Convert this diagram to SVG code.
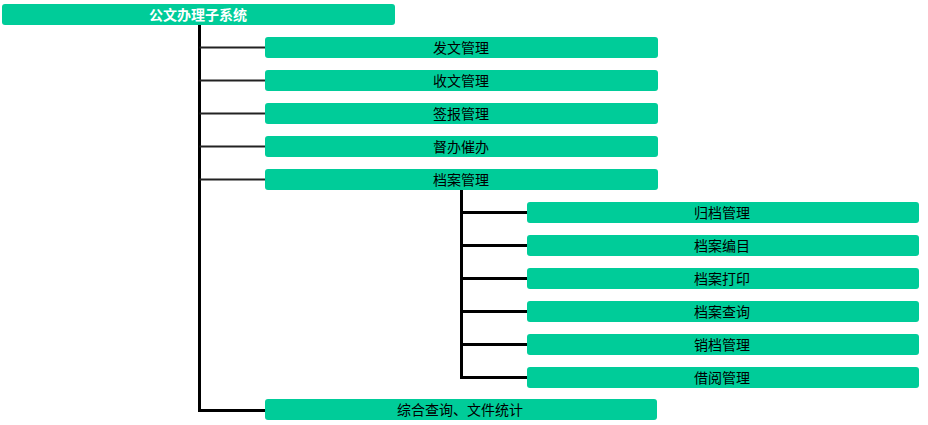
<svg xmlns="http://www.w3.org/2000/svg" width="928" height="425" viewBox="0 0 928 425">
<style>
.box{fill:#00cc99}
.t{font-family:"Noto Sans CJK SC","Liberation Sans",sans-serif;font-size:14px;fill:#000;text-anchor:middle;dominant-baseline:central}
.root{font-family:"Noto Sans CJK SC","Liberation Sans",sans-serif;font-size:14px;fill:#fff;font-weight:bold;text-anchor:middle;dominant-baseline:central}
.ln{stroke:#000;stroke-width:3;fill:none}
.thin{stroke:#222;stroke-width:2;fill:none}
</style>
<rect width="928" height="425" fill="#fff"/>
<g id="connectors">
<path class="ln" d="M199.5,25 V410.5 H265"/>
<path class="thin" d="M199.5,47.5 H265 M199.5,80.5 H265 M199.5,113.5 H265 M199.5,146.5 H265 M199.5,179.5 H265"/>
<path class="ln" d="M461.5,190 V377.5 H527"/>
<path class="ln" d="M461.5,212.5 H527 M461.5,245.5 H527 M461.5,278.5 H527 M461.5,311.5 H527 M461.5,344.5 H527"/>
</g>
<g id="root"><rect class="box" x="2" y="4" width="393" height="21" rx="3"/><text class="root" x="198" y="13.5">公文办理子系统</text></g>
<g id="n1"><rect class="box" x="265" y="37" width="393" height="21" rx="3"/><text class="t" x="461" y="46.5">发文管理</text></g>
<g id="n2"><rect class="box" x="265" y="70" width="393" height="21" rx="3"/><text class="t" x="461" y="79.5">收文管理</text></g>
<g id="n3"><rect class="box" x="265" y="103" width="393" height="21" rx="3"/><text class="t" x="461" y="112.5">签报管理</text></g>
<g id="n4"><rect class="box" x="265" y="136" width="393" height="21" rx="3"/><text class="t" x="461" y="145.5">督办催办</text></g>
<g id="n5"><rect class="box" x="265" y="169" width="393" height="21" rx="3"/><text class="t" x="461" y="178.5">档案管理</text></g>
<g id="s1"><rect class="box" x="527" y="202" width="392" height="21" rx="3"/><text class="t" x="722" y="211.5">归档管理</text></g>
<g id="s2"><rect class="box" x="527" y="235" width="392" height="21" rx="3"/><text class="t" x="722" y="244.5">档案编目</text></g>
<g id="s3"><rect class="box" x="527" y="268" width="392" height="21" rx="3"/><text class="t" x="722" y="277.5">档案打印</text></g>
<g id="s4"><rect class="box" x="527" y="301" width="392" height="21" rx="3"/><text class="t" x="722" y="310.5">档案查询</text></g>
<g id="s5"><rect class="box" x="527" y="334" width="392" height="21" rx="3"/><text class="t" x="722" y="343.5">销档管理</text></g>
<g id="s6"><rect class="box" x="527" y="367" width="392" height="21" rx="3"/><text class="t" x="722" y="376.5">借阅管理</text></g>
<g id="n6"><rect class="box" x="265" y="399" width="392" height="21" rx="3"/><text class="t" x="460" y="408.5">综合查询、文件统计</text></g>
</svg>
